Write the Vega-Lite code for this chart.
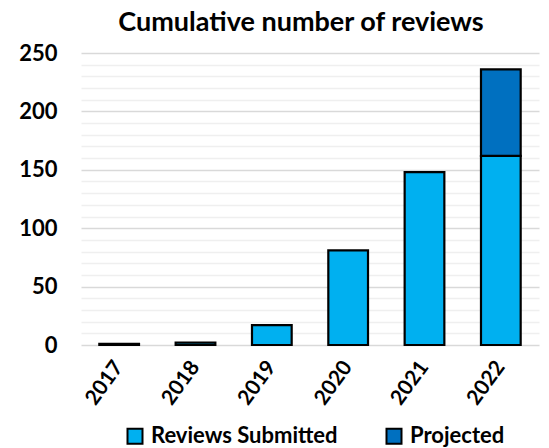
{
  "$schema": "https://vega.github.io/schema/vega-lite/v6.json",
  "width": 458,
  "height": 292,
  "autosize": {"type": "none"},
  "padding": {"left": 81, "top": 53, "right": 10, "bottom": 103},
  "background": "white",
  "title": {
    "text": "Cumulative number of reviews",
    "font": "Lato",
    "fontSize": 27,
    "fontWeight": "bold",
    "color": "black",
    "anchor": "middle",
    "dx": -9,
    "offset": 5
  },
  "data": {
    "values": [
      {"year": "2017", "type": "Reviews Submitted", "value": 1, "ord": 1},
      {"year": "2018", "type": "Reviews Submitted", "value": 2, "ord": 1},
      {"year": "2019", "type": "Reviews Submitted", "value": 17, "ord": 1},
      {"year": "2020", "type": "Reviews Submitted", "value": 81, "ord": 1},
      {"year": "2021", "type": "Reviews Submitted", "value": 148, "ord": 1},
      {"year": "2022", "type": "Reviews Submitted", "value": 162, "ord": 1},
      {"year": "2022", "type": "Projected", "value": 74, "ord": 2}
    ]
  },
  "mark": {"type": "bar", "stroke": "black", "strokeWidth": 2.2},
  "encoding": {
    "x": {
      "field": "year",
      "type": "nominal",
      "sort": null,
      "scale": {"paddingInner": 0.48, "paddingOuter": 0.24},
      "axis": {
        "title": null,
        "labelAngle": -54,
        "labelAlign": "right",
        "labelBaseline": "middle",
        "labelFont": "Lato",
        "labelFontSize": 21,
        "labelFontWeight": "bold",
        "labelColor": "black",
        "labelPadding": 18,
        "domain": false,
        "ticks": false,
        "grid": false
      }
    },
    "y": {
      "field": "value",
      "type": "quantitative",
      "stack": "zero",
      "scale": {"domain": [0, 250], "nice": false},
      "axis": {
        "title": null,
        "values": [0,10,20,30,40,50,60,70,80,90,100,110,120,130,140,150,160,170,180,190,200,210,220,230,240,250],
        "labelExpr": "datum.value % 50 === 0 ? datum.label : ''",
        "gridColor": {"condition": {"test": "datum.value % 50 === 0", "value": "#d9d9d9"}, "value": "#efefef"},
        "gridWidth": 1.5,
        "labelFont": "Lato",
        "labelFontSize": 22,
        "labelFontWeight": "bold",
        "labelColor": "black",
        "labelPadding": 24,
        "domain": false,
        "ticks": false
      }
    },
    "color": {
      "field": "type",
      "type": "nominal",
      "scale": {"domain": ["Reviews Submitted", "Projected"], "range": ["#00B0F0", "#0070C0"]},
      "legend": {
        "title": null,
        "orient": "none",
        "direction": "horizontal",
        "legendX": 43,
        "legendY": 372,
        "symbolType": "square",
        "symbolSize": 225,
        "symbolStrokeColor": "black",
        "symbolStrokeWidth": 2,
        "symbolOpacity": 1,
        "labelFont": "Lato",
        "labelFontSize": 22,
        "labelFontWeight": "bold",
        "labelColor": "black",
        "labelOffset": 5,
        "labelLimit": 400,
        "columnPadding": 44
      }
    },
    "order": {"field": "ord", "type": "quantitative"}
  },
  "config": {"view": {"stroke": null}}
}
